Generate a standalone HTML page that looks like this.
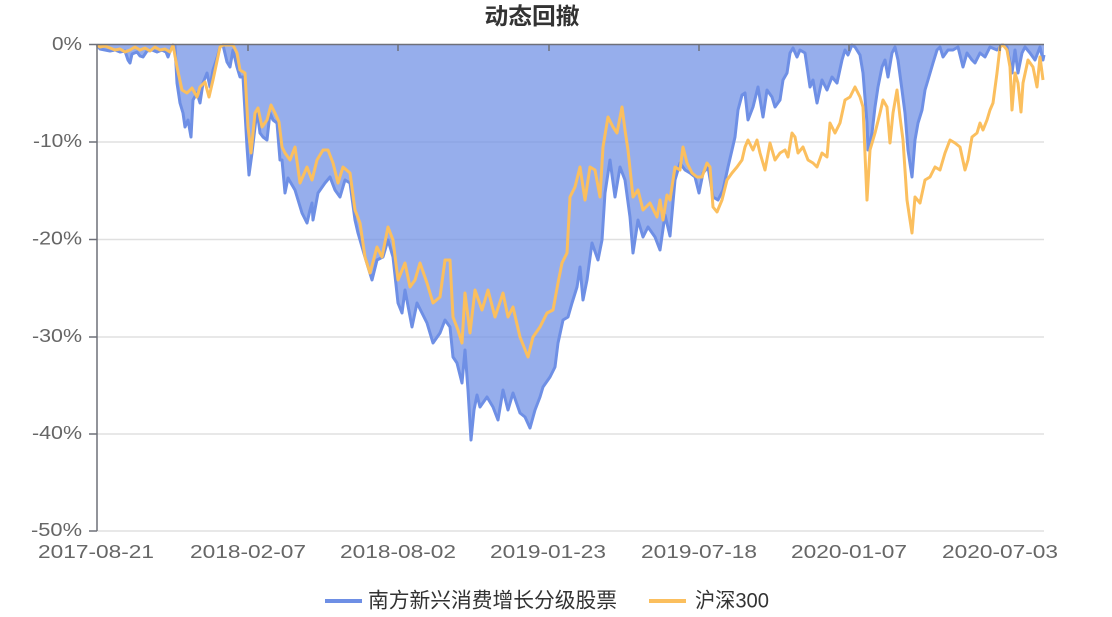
<!DOCTYPE html>
<html><head><meta charset="utf-8">
<style>
html,body{margin:0;padding:0;background:#fff;}
svg{display:block;}
text{font-family:"Liberation Sans","Noto Sans CJK SC",sans-serif;}
</style></head>
<body>
<svg width="1112" height="617" viewBox="0 0 1112 617" xmlns="http://www.w3.org/2000/svg">
<rect width="1112" height="617" fill="#fff"/>
<text x="532" y="16" text-anchor="middle" dominant-baseline="central" font-size="23" font-weight="bold" fill="#333" textLength="95" lengthAdjust="spacingAndGlyphs">动态回撤</text>
<g stroke="#e0e0e0" stroke-width="1.5">
<line x1="97" y1="142" x2="1044" y2="142"/>
<line x1="97" y1="239.5" x2="1044" y2="239.5"/>
<line x1="97" y1="337" x2="1044" y2="337"/>
<line x1="97" y1="434" x2="1044" y2="434"/>
<line x1="97" y1="531" x2="1044" y2="531"/>
</g>
<polygon fill="#6e8fe5" fill-opacity="0.72" points="97,44.5 97,45 100,49 105,50 110,51 115,50 120,52 125,51 128,60 130,63 132,54 137,52 140,56 143,57 147,51 152,50 157,52 162,50 166,52 168,57 170,51 173,45 175,46 177,83 180,103 183,113 185,127 188,120 191,137 193,100 197,93 200,103 203,83 207,73 210,87 213,70 217,58 220,47 223,45 227,62 230,67 233,50 237,67 240,77 243,77 247,147 249,175 252,153 257,110 260,133 263,137 267,140 270,113 273,120 277,123 280,160 282,160 285,193 288,178 295,190 302,213 307,223 310,210 312,203 313,220 318,193 325,183 330,177 335,190 340,197 345,180 350,183 355,220 358,233 365,257 372,280 377,260 383,257 388,240 393,257 398,303 402,313 405,290 412,327 417,303 422,313 427,323 433,343 440,333 445,320 450,327 453,357 457,363 462,383 465,350 468,390 471,440 474,410 477,395 480,407 487,397 493,407 498,420 503,390 508,410 513,393 520,413 525,417 530,428 535,410 540,397 543,387 550,377 555,367 558,343 563,320 568,317 572,303 577,287 580,267 583,300 587,280 592,243 598,260 602,240 605,193 610,160 615,197 620,167 625,180 630,217 633,253 638,220 643,237 648,227 655,237 660,250 665,215 670,236 675,180 680,163 685,170 690,173 695,177 699,193 703,173 708,167 713,197 718,200 723,190 728,167 732,150 735,137 738,110 742,95 745,93 748,120 753,107 758,87 763,117 767,90 772,97 775,107 780,100 783,80 787,73 790,53 793,48 797,57 800,50 805,53 810,87 813,80 817,103 822,80 827,90 832,77 837,83 842,60 845,50 848,55 852,45 855,47 860,55 863,73 867,123 868,150 872,133 875,107 878,87 882,67 885,60 888,77 892,53 895,47 898,60 902,90 905,113 908,150 912,177 915,140 918,123 922,110 925,90 928,80 933,63 937,50 940,47 943,57 948,50 953,50 958,47 963,67 967,53 972,60 975,63 980,53 985,57 990,47 997,50 1002,45 1007,47 1012,73 1015,50 1018,73 1022,53 1025,47 1030,53 1035,60 1040,47 1043,60 1044,55 1044,44.5"/>
<polyline fill="none" stroke="#6e8fe5" stroke-width="3" stroke-linejoin="round" points="97,45 100,49 105,50 110,51 115,50 120,52 125,51 128,60 130,63 132,54 137,52 140,56 143,57 147,51 152,50 157,52 162,50 166,52 168,57 170,51 173,45 175,46 177,83 180,103 183,113 185,127 188,120 191,137 193,100 197,93 200,103 203,83 207,73 210,87 213,70 217,58 220,47 223,45 227,62 230,67 233,50 237,67 240,77 243,77 247,147 249,175 252,153 257,110 260,133 263,137 267,140 270,113 273,120 277,123 280,160 282,160 285,193 288,178 295,190 302,213 307,223 310,210 312,203 313,220 318,193 325,183 330,177 335,190 340,197 345,180 350,183 355,220 358,233 365,257 372,280 377,260 383,257 388,240 393,257 398,303 402,313 405,290 412,327 417,303 422,313 427,323 433,343 440,333 445,320 450,327 453,357 457,363 462,383 465,350 468,390 471,440 474,410 477,395 480,407 487,397 493,407 498,420 503,390 508,410 513,393 520,413 525,417 530,428 535,410 540,397 543,387 550,377 555,367 558,343 563,320 568,317 572,303 577,287 580,267 583,300 587,280 592,243 598,260 602,240 605,193 610,160 615,197 620,167 625,180 630,217 633,253 638,220 643,237 648,227 655,237 660,250 665,215 670,236 675,180 680,163 685,170 690,173 695,177 699,193 703,173 708,167 713,197 718,200 723,190 728,167 732,150 735,137 738,110 742,95 745,93 748,120 753,107 758,87 763,117 767,90 772,97 775,107 780,100 783,80 787,73 790,53 793,48 797,57 800,50 805,53 810,87 813,80 817,103 822,80 827,90 832,77 837,83 842,60 845,50 848,55 852,45 855,47 860,55 863,73 867,123 868,150 872,133 875,107 878,87 882,67 885,60 888,77 892,53 895,47 898,60 902,90 905,113 908,150 912,177 915,140 918,123 922,110 925,90 928,80 933,63 937,50 940,47 943,57 948,50 953,50 958,47 963,67 967,53 972,60 975,63 980,53 985,57 990,47 997,50 1002,45 1007,47 1012,73 1015,50 1018,73 1022,53 1025,47 1030,53 1035,60 1040,47 1043,60 1044,55"/>
<polyline fill="none" stroke="#fbbf5e" stroke-width="3" stroke-linejoin="round" points="97,45 100,47 105,46 110,48 115,50 120,49 125,52 130,50 135,47 140,50 145,48 150,51 155,47 160,50 165,49 170,52 173,45 177,67 182,90 187,93 192,88 197,97 200,87 205,82 209,97 213,80 220,47 223,45 233,45 237,53 240,70 245,73 248,127 251,153 255,113 258,108 262,127 267,120 271,105 275,113 279,122 282,147 285,153 290,160 295,147 300,183 307,167 312,180 317,160 323,150 328,150 333,163 338,183 343,167 350,173 355,210 360,223 365,257 370,273 377,247 382,257 388,227 393,240 398,280 405,263 410,287 415,280 420,263 427,283 433,303 440,297 445,260 450,260 453,317 458,330 462,343 465,293 470,333 475,290 482,310 488,290 495,317 503,293 508,317 513,307 520,337 528,357 533,337 540,327 547,313 553,310 558,283 562,263 567,253 570,197 575,187 580,167 585,200 590,167 595,170 600,197 603,147 608,117 613,127 617,133 622,107 625,130 628,150 633,197 638,190 643,210 650,203 657,217 660,200 663,220 667,195 670,200 675,167 680,170 683,147 687,163 692,173 697,177 702,177 707,163 710,167 713,207 717,212 722,200 727,180 732,173 737,167 742,160 745,147 748,140 753,150 757,140 760,153 765,170 770,143 775,160 780,153 785,150 788,157 792,133 795,137 798,153 803,147 808,160 813,163 817,167 822,153 827,157 830,123 835,133 840,123 845,100 850,97 855,87 860,97 863,107 867,200 870,150 875,133 880,113 883,100 887,107 890,143 893,113 897,90 900,117 903,140 907,200 910,220 912,233 915,197 920,203 925,180 930,177 935,167 940,170 945,153 950,140 955,143 960,147 965,170 968,160 972,137 977,133 980,123 983,130 987,120 990,110 993,103 997,73 1000,47 1003,45 1007,50 1010,67 1012,110 1015,73 1018,83 1021,112 1023,83 1028,60 1033,67 1037,87 1040,57 1043,80"/>
<g stroke="#6e7079" stroke-width="1.5">
<line x1="97" y1="44.5" x2="1044" y2="44.5"/>
<line x1="97" y1="44" x2="97" y2="531"/>
<line x1="89" y1="44.5" x2="97" y2="44.5"/>
<line x1="89" y1="142" x2="97" y2="142"/>
<line x1="89" y1="239.5" x2="97" y2="239.5"/>
<line x1="89" y1="337" x2="97" y2="337"/>
<line x1="89" y1="434" x2="97" y2="434"/>
<line x1="89" y1="531" x2="97" y2="531"/>
<line x1="248" y1="44.5" x2="248" y2="51"/>
<line x1="398" y1="44.5" x2="398" y2="51"/>
<line x1="549" y1="44.5" x2="549" y2="51"/>
<line x1="699" y1="44.5" x2="699" y2="51"/>
<line x1="849" y1="44.5" x2="849" y2="51"/>
<line x1="1000" y1="44.5" x2="1000" y2="51"/>
</g>
<g font-size="18" fill="#666" text-anchor="end" dominant-baseline="central" lengthAdjust="spacingAndGlyphs">
<text x="82" y="44" textLength="30" lengthAdjust="spacingAndGlyphs">0%</text>
<text x="82" y="141" textLength="49" lengthAdjust="spacingAndGlyphs">-10%</text>
<text x="82" y="238.5" textLength="50" lengthAdjust="spacingAndGlyphs">-20%</text>
<text x="82" y="336" textLength="50" lengthAdjust="spacingAndGlyphs">-30%</text>
<text x="82" y="433" textLength="50" lengthAdjust="spacingAndGlyphs">-40%</text>
<text x="82" y="530" textLength="51" lengthAdjust="spacingAndGlyphs">-50%</text>
</g>
<g font-size="18" fill="#666" text-anchor="middle" dominant-baseline="central">
<text x="96" y="552" textLength="116" lengthAdjust="spacingAndGlyphs">2017-08-21</text>
<text x="248" y="552" textLength="116" lengthAdjust="spacingAndGlyphs">2018-02-07</text>
<text x="398" y="552" textLength="116" lengthAdjust="spacingAndGlyphs">2018-08-02</text>
<text x="548" y="552" textLength="116" lengthAdjust="spacingAndGlyphs">2019-01-23</text>
<text x="699" y="552" textLength="116" lengthAdjust="spacingAndGlyphs">2019-07-18</text>
<text x="849" y="552" textLength="116" lengthAdjust="spacingAndGlyphs">2020-01-07</text>
<text x="1000" y="552" textLength="116" lengthAdjust="spacingAndGlyphs">2020-07-03</text>
</g>
<line x1="325" y1="601" x2="362" y2="601" stroke="#6e8fe5" stroke-width="4"/>
<text x="368" y="601" font-size="21" fill="#333" dominant-baseline="central" textLength="249" lengthAdjust="spacingAndGlyphs">南方新兴消费增长分级股票</text>
<line x1="649" y1="601" x2="686" y2="601" stroke="#fbbf5e" stroke-width="4"/>
<text x="695" y="601" font-size="21" fill="#333" dominant-baseline="central" textLength="74" lengthAdjust="spacingAndGlyphs">沪深300</text>
</svg>
</body></html>
